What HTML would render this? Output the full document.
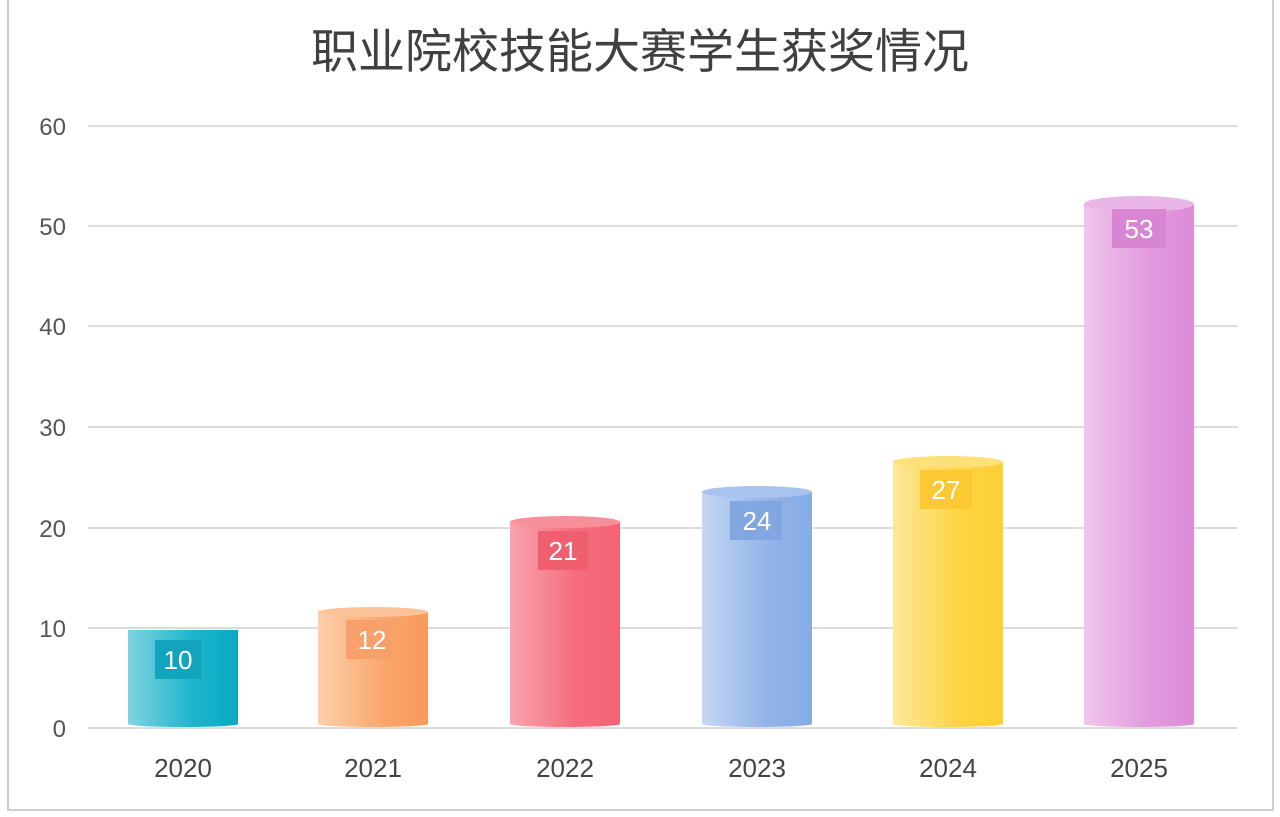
<!DOCTYPE html>
<html><head><meta charset="utf-8"><style>
body{margin:0;background:#fff;}
svg{display:block;}
text{font-family:"Liberation Sans","Noto Sans CJK SC",sans-serif;}
</style></head><body>
<svg width="1280" height="817" viewBox="0 0 1280 817">
<defs>
<linearGradient id="g0" x1="0" x2="1"><stop offset="0" stop-color="#7fd3e0"/><stop offset="0.6" stop-color="#1cb4cc"/><stop offset="1" stop-color="#0aa8c2"/></linearGradient>
<linearGradient id="g1" x1="0" x2="1"><stop offset="0" stop-color="#fcd0ad"/><stop offset="0.6" stop-color="#faa66c"/><stop offset="1" stop-color="#f89a5a"/></linearGradient>
<linearGradient id="g2" x1="0" x2="1"><stop offset="0" stop-color="#f8a4ae"/><stop offset="0.6" stop-color="#f56c7c"/><stop offset="1" stop-color="#f46375"/></linearGradient>
<linearGradient id="g3" x1="0" x2="1"><stop offset="0" stop-color="#c5d7f3"/><stop offset="0.6" stop-color="#92b4e8"/><stop offset="1" stop-color="#86abe5"/></linearGradient>
<linearGradient id="g4" x1="0" x2="1"><stop offset="0" stop-color="#fde79a"/><stop offset="0.6" stop-color="#fdd444"/><stop offset="1" stop-color="#fdcf34"/></linearGradient>
<linearGradient id="g5" x1="0" x2="1"><stop offset="0" stop-color="#f0c6ec"/><stop offset="0.6" stop-color="#e29ade"/><stop offset="1" stop-color="#dd8cd8"/></linearGradient>
</defs>
<rect x="8" y="-2" width="1265" height="812" fill="#fff" stroke="#cfcfcf" stroke-width="2"/>
<text x="640" y="68" text-anchor="middle" font-size="47" fill="#404040">职业院校技能大赛学生获奖情况</text>
<g stroke="#dcdcdc" stroke-width="2">
<line x1="88" x2="1238" y1="126" y2="126"/><line x1="88" x2="1238" y1="226" y2="226"/>
<line x1="88" x2="1238" y1="326" y2="326"/><line x1="88" x2="1238" y1="427" y2="427"/>
<line x1="88" x2="1238" y1="528" y2="528"/><line x1="88" x2="1238" y1="628" y2="628"/>
<line x1="88" x2="1238" y1="728" y2="728"/>
</g>
<g font-size="24" fill="#555" text-anchor="end">
<text x="66" y="135">60</text><text x="66" y="235">50</text><text x="66" y="335">40</text>
<text x="66" y="436">30</text><text x="66" y="537">20</text><text x="66" y="637">10</text><text x="66" y="737">0</text>
</g>
<g font-size="26" fill="#444" text-anchor="middle">
<text x="183" y="777">2020</text><text x="373" y="777">2021</text><text x="565" y="777">2022</text>
<text x="757" y="777">2023</text><text x="948" y="777">2024</text><text x="1139" y="777">2025</text>
</g>
<g>
<rect x="128" y="630" width="110" height="94" fill="url(#g0)"/>
<ellipse cx="183" cy="724" rx="55" ry="3" fill="url(#g0)"/>
<rect x="155" y="640" width="46" height="39" fill="#13a4bd"/>
<text x="178" y="669" font-size="26" fill="#fff" text-anchor="middle">10</text>

<rect x="318" y="612" width="110" height="112" fill="url(#g1)"/>
<ellipse cx="373" cy="724" rx="55" ry="3" fill="url(#g1)"/>
<ellipse cx="373" cy="612" rx="55" ry="5" fill="#fcc39a"/>
<rect x="346" y="620" width="48" height="39" fill="#f7a06a"/>
<text x="372" y="649" font-size="26" fill="#fff" text-anchor="middle">12</text>

<rect x="510" y="522" width="110" height="202" fill="url(#g2)"/>
<ellipse cx="565" cy="724" rx="55" ry="3" fill="url(#g2)"/>
<ellipse cx="565" cy="522" rx="55" ry="6" fill="#f8909c"/>
<rect x="538" y="531" width="50" height="39" fill="#ef5f70"/>
<text x="563" y="560" font-size="26" fill="#fff" text-anchor="middle">21</text>

<rect x="702" y="492" width="110" height="232" fill="url(#g3)"/>
<ellipse cx="757" cy="724" rx="55" ry="3" fill="url(#g3)"/>
<ellipse cx="757" cy="492" rx="55" ry="6" fill="#a8c3ee"/>
<rect x="730" y="501" width="52" height="39" fill="#82a6e0"/>
<text x="757" y="530" font-size="26" fill="#fff" text-anchor="middle">24</text>

<rect x="893" y="462" width="110" height="262" fill="url(#g4)"/>
<ellipse cx="948" cy="724" rx="55" ry="3" fill="url(#g4)"/>
<ellipse cx="948" cy="462" rx="55" ry="6" fill="#fde07a"/>
<rect x="920" y="470" width="52" height="39" fill="#fbc934"/>
<text x="946" y="499" font-size="26" fill="#fff" text-anchor="middle">27</text>

<rect x="1084" y="204" width="110" height="520" fill="url(#g5)"/>
<ellipse cx="1139" cy="724" rx="55" ry="3" fill="url(#g5)"/>
<ellipse cx="1139" cy="204" rx="55" ry="8" fill="#eab6e7"/>
<rect x="1112" y="209" width="54" height="39" fill="#d885d3"/>
<text x="1139" y="238" font-size="26" fill="#fff" text-anchor="middle">53</text>
</g>
</svg>
</body></html>
